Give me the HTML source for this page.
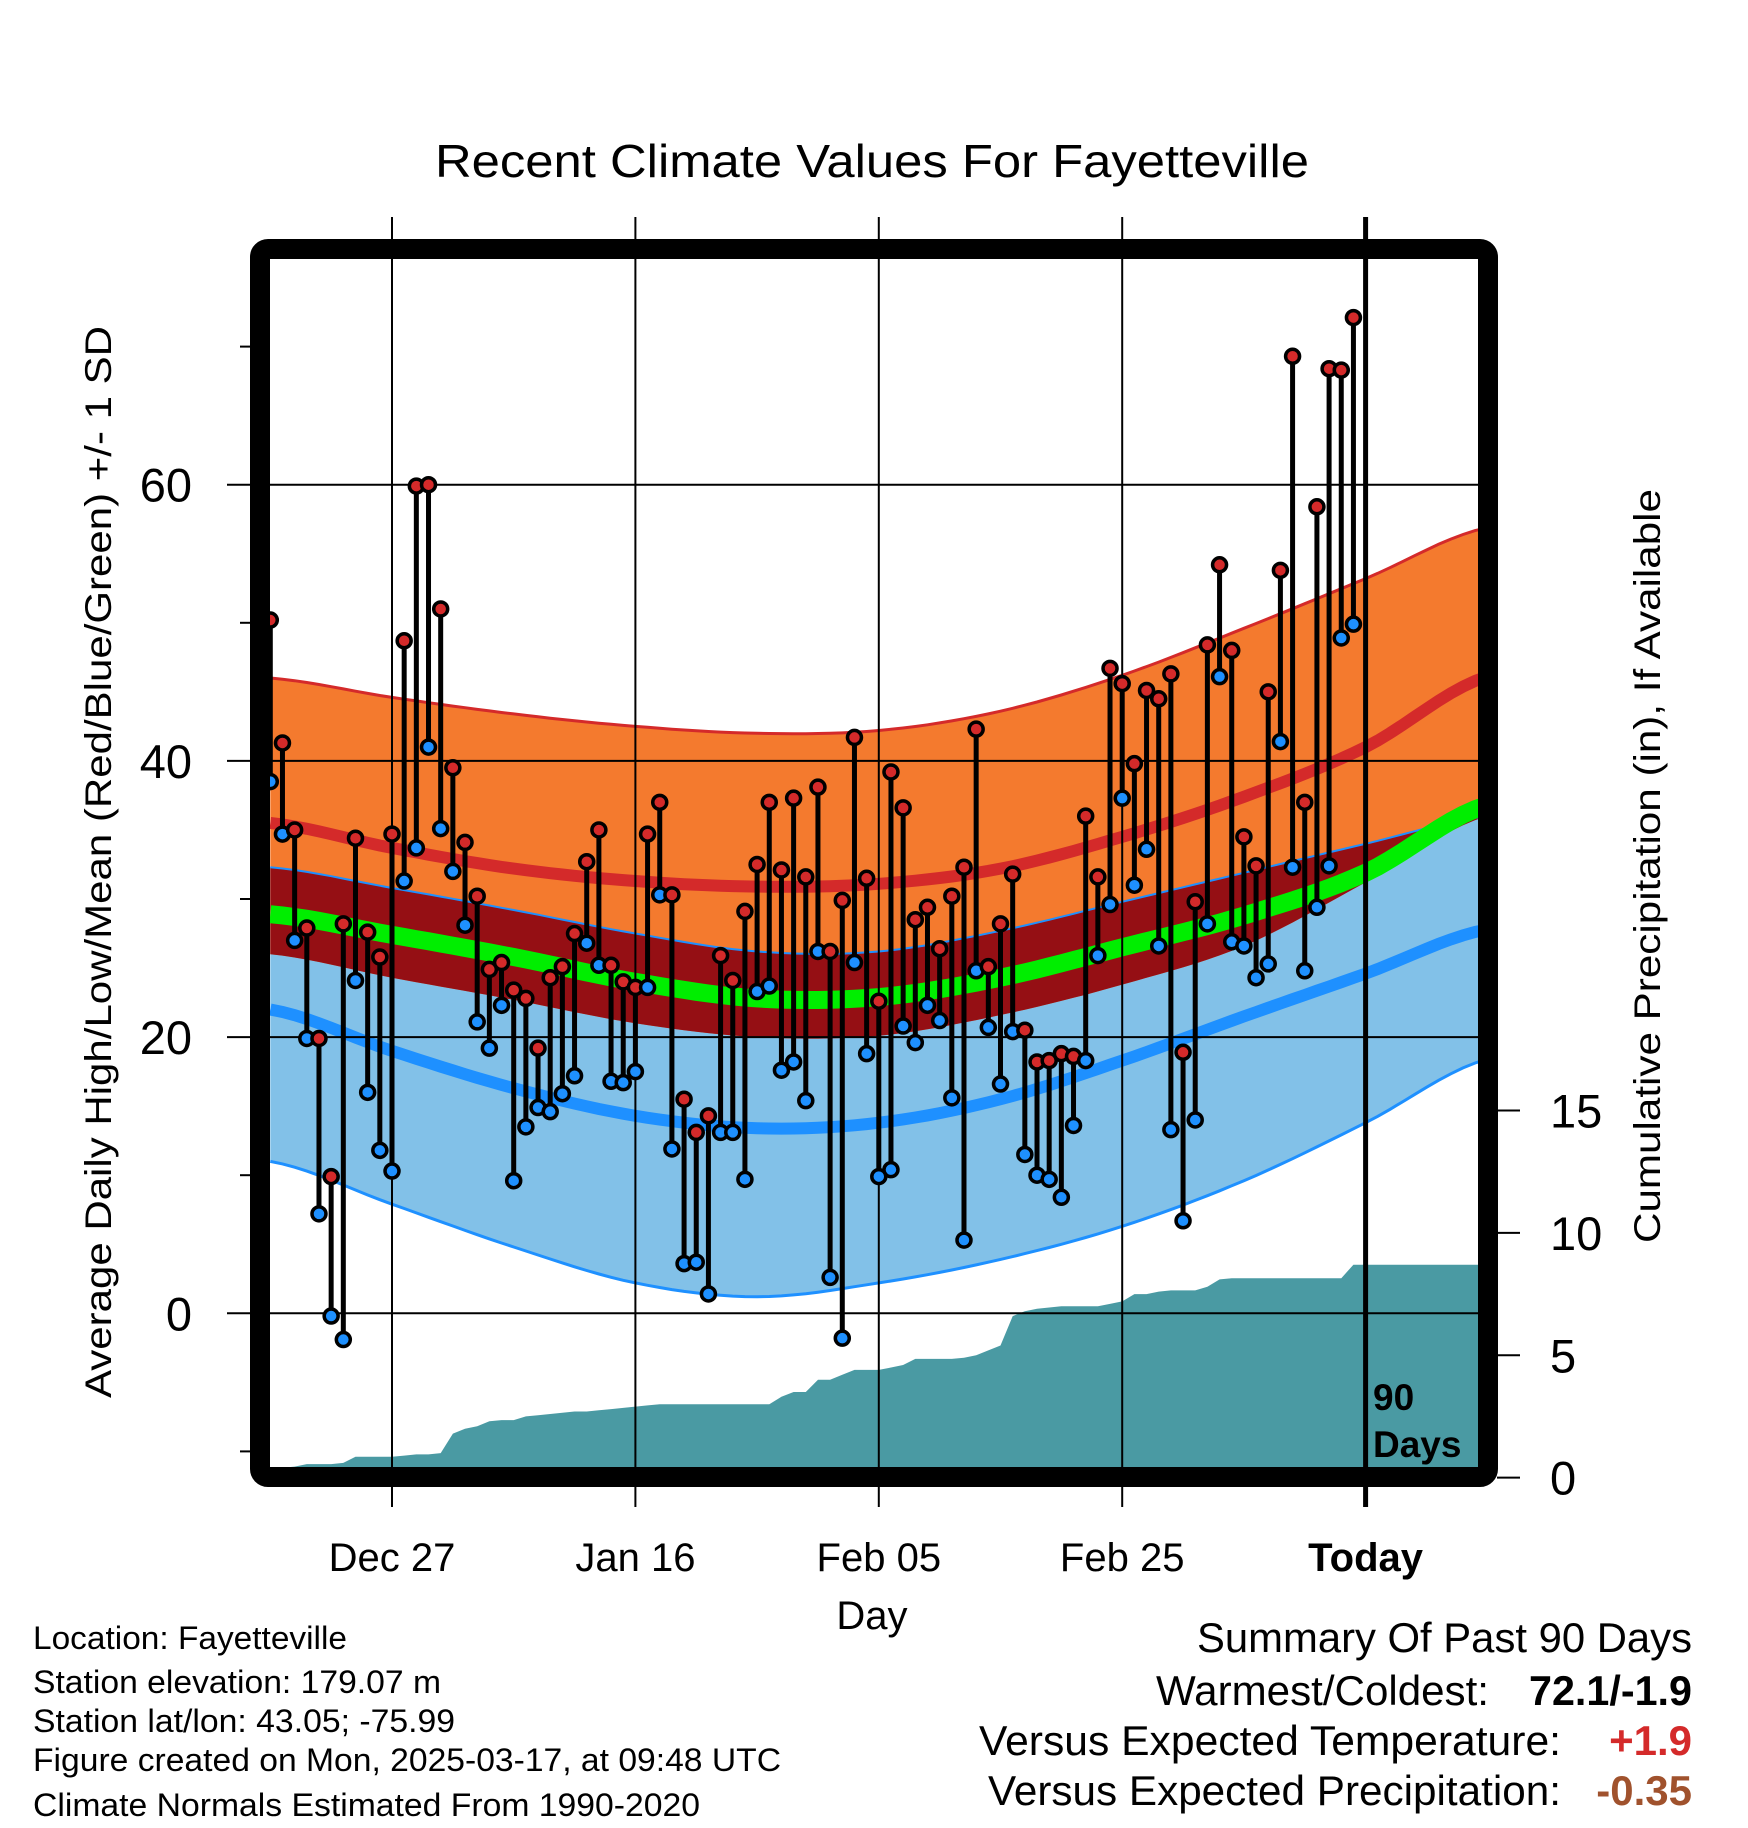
<!DOCTYPE html>
<html><head><meta charset="utf-8"><style>
html,body{margin:0;padding:0;background:#fff;}
svg{display:block;font-family:"Liberation Sans",Arial,sans-serif;}
</style></head><body>
<svg id="chart" width="1748" height="1828" viewBox="0 0 1748 1828" xmlns="http://www.w3.org/2000/svg">
<defs><clipPath id="plotclip"><rect x="270" y="259" width="1208" height="1208"/></clipPath></defs>
<g id="bands" clip-path="url(#plotclip)"></g>
<g id="precip" clip-path="url(#plotclip)"></g>
<g id="grid"></g>
<g id="marks"></g>
<g id="axes"></g>
<text x="872" y="177" text-anchor="middle" font-size="46" textLength="874" lengthAdjust="spacingAndGlyphs">Recent Climate Values For Fayetteville</text>
<text transform="translate(111,862) rotate(-90)" text-anchor="middle" font-size="37" textLength="1072" lengthAdjust="spacingAndGlyphs">Average Daily High/Low/Mean (Red/Blue/Green) +/- 1 SD</text>
<text transform="translate(1660,866) rotate(-90)" text-anchor="middle" font-size="37" textLength="754" lengthAdjust="spacingAndGlyphs">Cumulative Precipitation (in), If Available</text>
<text x="872" y="1629" text-anchor="middle" font-size="40">Day</text>
<text x="1373" y="1410" font-size="37" font-weight="bold">90</text>
<text x="1373" y="1457" font-size="37" font-weight="bold">Days</text>
<g font-size="32">
<text x="33" y="1649" textLength="314" lengthAdjust="spacingAndGlyphs">Location: Fayetteville</text>
<text x="33" y="1693" textLength="408" lengthAdjust="spacingAndGlyphs">Station elevation: 179.07 m</text>
<text x="33" y="1732" textLength="422" lengthAdjust="spacingAndGlyphs">Station lat/lon: 43.05; -75.99</text>
<text x="33" y="1771" textLength="748" lengthAdjust="spacingAndGlyphs">Figure created on Mon, 2025-03-17, at 09:48 UTC</text>
<text x="33" y="1816" textLength="667" lengthAdjust="spacingAndGlyphs">Climate Normals Estimated From 1990-2020</text>
</g>
<g font-size="42">
<text x="1197" y="1652" textLength="495" lengthAdjust="spacingAndGlyphs">Summary Of Past 90 Days</text>
<text x="1156" y="1705" textLength="333" lengthAdjust="spacingAndGlyphs">Warmest/Coldest:</text>
<text x="1529" y="1705" textLength="163" lengthAdjust="spacingAndGlyphs" font-weight="bold">72.1/-1.9</text>
<text x="979" y="1755" textLength="582" lengthAdjust="spacingAndGlyphs">Versus Expected Temperature:</text>
<text x="1692" y="1755" text-anchor="end" font-weight="bold" fill="#d42a2a">+1.9</text>
<text x="988" y="1805" textLength="573" lengthAdjust="spacingAndGlyphs">Versus Expected Precipitation:</text>
<text x="1692" y="1805" text-anchor="end" font-weight="bold" fill="#a0522d">-0.35</text>
</g>
</svg>
<script>
// ---- data ----
const knotDays = [0,10,20,30,40,50,60,70,80,90,100];
const highPlus  = [46.0,44.6,43.4,42.5,42.0,42.2,43.6,46.2,49.6,53.2,56.9];
const highMean  = [35.5,33.7,32.2,31.3,30.9,31.1,32.2,34.5,37.4,41.0,46.1];
const highMinus = [26.0,24.3,22.7,21.0,20.0,20.1,21.6,23.8,26.6,31.2,36.0];
const lowPlus   = [32.3,30.8,29.2,27.5,26.2,26.2,27.7,29.8,31.9,34.0,36.0];
const meanTemp  = [28.9,27.4,25.8,24.0,22.8,22.9,24.3,26.5,28.8,31.9,36.8];
const lowMean   = [22.0,19.0,16.3,14.3,13.4,13.8,15.5,18.3,21.5,24.6,27.8];
const lowMinus  = [11.0,7.9,4.8,2.2,1.2,2.2,3.9,6.3,9.6,13.8,18.4];
const highs = [50.2,41.3,35.0,27.9,19.9,9.9,28.2,34.4,27.6,25.8,34.7,48.7,59.9,60.0,51.0,39.5,34.1,30.2,24.9,25.4,23.4,22.8,19.2,24.3,25.1,27.5,32.7,35.0,25.2,24.0,23.6,34.7,37.0,30.3,15.5,13.1,14.3,25.9,24.1,29.1,32.5,37.0,32.1,37.3,31.6,38.1,26.2,29.9,41.7,31.5,22.6,39.2,36.6,28.5,29.4,26.4,30.2,32.3,42.3,25.1,28.2,31.8,20.5,18.2,18.3,18.8,18.6,36.0,31.6,46.7,45.6,39.8,45.1,44.5,46.3,18.9,29.8,48.4,54.2,48.0,34.5,32.4,45.0,53.8,69.3,37.0,58.4,68.4,68.3,72.1];
const lows  = [38.5,34.7,27.0,19.9,7.2,-0.2,-1.9,24.1,16.0,11.8,10.3,31.3,33.7,41.0,35.1,32.0,28.1,21.1,19.2,22.3,9.6,13.5,14.9,14.6,15.9,17.2,26.8,25.2,16.8,16.7,17.5,23.6,30.3,11.9,3.6,3.7,1.4,13.1,13.1,9.7,23.3,23.7,17.6,18.2,15.4,26.2,2.6,-1.8,25.4,18.8,9.9,10.4,20.8,19.6,22.3,21.2,15.6,5.3,24.8,20.7,16.6,20.4,11.5,10.0,9.7,8.4,13.6,18.3,25.9,29.6,37.3,31.0,33.6,26.6,13.3,6.7,14.0,28.2,46.1,26.9,26.6,24.3,25.3,41.4,32.3,24.8,29.4,32.4,48.9,49.9];
const precip = [0.3,0.4,0.45,0.55,0.55,0.55,0.6,0.85,0.85,0.85,0.85,0.9,0.95,0.95,1.0,1.8,2.0,2.1,2.3,2.35,2.35,2.5,2.55,2.6,2.65,2.7,2.7,2.75,2.8,2.85,2.9,2.95,3.0,3.0,3.0,3.0,3.0,3.0,3.0,3.0,3.0,3.0,3.3,3.5,3.5,4.0,4.0,4.2,4.4,4.4,4.4,4.5,4.6,4.85,4.85,4.85,4.85,4.9,5.0,5.2,5.4,6.6,6.8,6.9,6.95,7.0,7.0,7.0,7.0,7.1,7.2,7.5,7.5,7.6,7.65,7.65,7.65,7.8,8.1,8.15,8.15,8.15,8.15,8.15,8.15,8.15,8.15,8.15,8.15,8.7];
const tempTicks = [0,20,40,60];
const tempMinor = [-10,10,30,50,70];
const precipTicks = [0,5,10,15];
const dateLabels = ["Dec 27","Jan 16","Feb 05","Feb 25","Today"];
const dateDays = [10,30,50,70,90];

// ---- scales ----
const X = d => 270.3 + 12.17*d;
const Y = t => 1313.3 - 13.81*t;
const P = p => 1477.6 - 24.47*p;
const NS = "http://www.w3.org/2000/svg";
function mk(tag, attrs, parent){const e=document.createElementNS(NS,tag);for(const k in attrs)e.setAttribute(k,attrs[k]);parent.appendChild(e);return e;}

function sample(vals){ // Catmull-Rom through knots
  const pts=[];
  for(let i=0;i<knotDays.length-1;i++){
    const p0=vals[Math.max(i-1,0)],p1=vals[i],p2=vals[i+1],p3=vals[Math.min(i+2,vals.length-1)];
    for(let s=0;s<10;s++){const t=s/10;
      const v=0.5*((2*p1)+(-p0+p2)*t+(2*p0-5*p1+4*p2-p3)*t*t+(-p0+3*p1-3*p2+p3)*t*t*t);
      pts.push([knotDays[i]+(knotDays[i+1]-knotDays[i])*t,v]);}
  }
  pts.push([knotDays[knotDays.length-1],vals[vals.length-1]]);
  return pts;
}
const line = pts => pts.map((p,i)=>(i?"L":"M")+X(p[0]).toFixed(1)+","+Y(p[1]).toFixed(1)).join("");
function band(upper, lower){const u=sample(upper),l=sample(lower).reverse();return line(u)+l.map(p=>"L"+X(p[0]).toFixed(1)+","+Y(p[1]).toFixed(1)).join("")+"Z";}

const bands=document.getElementById("bands");
let e;
e=mk("path",{d:band(lowPlus,lowMinus),fill:"#82c1e8"},bands);


e=mk("path",{d:band(highPlus,highMinus),fill:"#f47a2e"},bands);


const ovU=lowPlus.map((v,i)=>Math.max(v,highMinus[i]));
e=mk("path",{d:band(ovU,highMinus),fill:"#950f14"},bands);


e=mk("path",{d:line(sample(highPlus)),fill:"none",stroke:"#d42a2a","stroke-width":3},bands);


e=mk("path",{d:line(sample(lowPlus)),fill:"none",stroke:"#1e90ff","stroke-width":2},bands);


e=mk("path",{d:line(sample(lowMinus)),fill:"none",stroke:"#1e90ff","stroke-width":3},bands);


e=mk("path",{d:line(sample(meanTemp)),fill:"none",stroke:"#00ee00","stroke-width":18},bands);


e=mk("path",{d:line(sample(highMean)),fill:"none",stroke:"#d42a2a","stroke-width":12},bands);


e=mk("path",{d:line(sample(lowMean)),fill:"none",stroke:"#1e90ff","stroke-width":12},bands);



// precip area
const pg=document.getElementById("precip");
let pd="M"+X(0)+",1470";
precip.forEach((v,i)=>{pd+="L"+X(i).toFixed(1)+","+P(v).toFixed(1);});
pd+="L"+X(101)+","+P(precip[precip.length-1]).toFixed(1)+"L"+X(101)+",1470Z";
e=mk("path",{d:pd,fill:"#4a9aa3"},pg);



// grid
const grid=document.getElementById("grid");
tempTicks.forEach(t=>{
  e=mk("line",{x1:270,x2:1478,y1:Y(t),y2:Y(t),stroke:"#000","stroke-width":2},grid);
  
  
});
dateDays.forEach((d,i)=>{
  if(i<4){
    e=mk("line",{x1:X(d),x2:X(d),y1:217,y2:1507,stroke:"#000","stroke-width":2},grid);
    
    
  }
});

// marks
const marks=document.getElementById("marks");
highs.forEach((h,i)=>{
  e=mk("line",{x1:X(i),x2:X(i),y1:Y(h),y2:Y(lows[i]),stroke:"#000","stroke-width":5},marks);
  
  
});
highs.forEach((h,i)=>{
  e=mk("circle",{cx:X(i),cy:Y(lows[i]),r:7,fill:"#1e90ff",stroke:"#000","stroke-width":3.5},marks);
  
  
  e=mk("circle",{cx:X(i),cy:Y(h),r:7,fill:"#d42a2a",stroke:"#000","stroke-width":3.5},marks);
  
  
});

// axes
const axes=document.getElementById("axes");
e=mk("line",{x1:X(90),x2:X(90),y1:217,y2:1507,stroke:"#000","stroke-width":5},axes);


e=mk("rect",{x:260,y:249,width:1228,height:1228,rx:8,fill:"none",stroke:"#000","stroke-width":20},axes);


tempTicks.forEach(t=>{
  e=mk("line",{x1:227,x2:250,y1:Y(t),y2:Y(t),stroke:"#000","stroke-width":2},axes);
  
  
  e=mk("text",{x:192,y:Y(t)+17,"text-anchor":"end","font-size":47},axes);
  e.textContent=String(t);
  
  
});
tempMinor.forEach(t=>{
  e=mk("line",{x1:240,x2:250,y1:Y(t),y2:Y(t),stroke:"#000","stroke-width":2},axes);
  
  
});
precipTicks.forEach(p=>{
  e=mk("line",{x1:1497,x2:1520,y1:P(p),y2:P(p),stroke:"#000","stroke-width":2},axes);
  
  
  e=mk("text",{x:1550,y:P(p)+17,"font-size":47},axes);
  e.textContent=String(p);
  
  
});
dateLabels.forEach((lab,i)=>{
  e=mk("text",{x:X(dateDays[i]),y:1571,"text-anchor":"middle","font-size":40},axes);
  if(lab==="Today")e.setAttribute("font-weight","bold");
  e.textContent=lab;
  
  
});
</script>
</body></html>
